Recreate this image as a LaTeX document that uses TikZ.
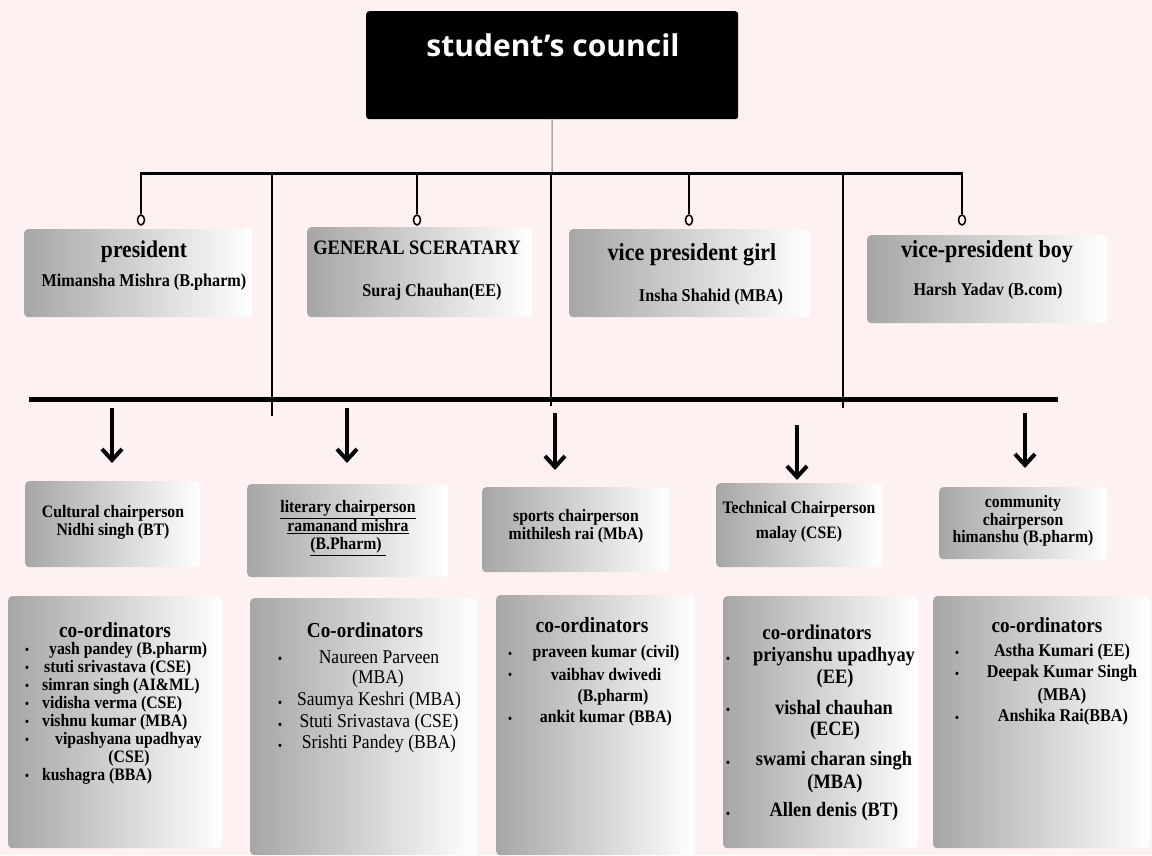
\documentclass[tikz,border=0pt]{standalone}
\usepackage{fontspec}
\setmainfont{Liberation Serif}[FakeStretch=0.9]
\newfontfamily\titlefont{Open Sans}
\usetikzlibrary{arrows.meta,shapes.geometric}
\definecolor{bgpink}{RGB}{254,241,241}
\definecolor{boxgray}{RGB}{166,166,166}
\newcommand{\fs}[2]{\fontsize{#1}{#2}\selectfont}
\tikzset{
  grad/.style={rounded corners=4pt, left color=boxgray, right color=white, draw=none, inner sep=0pt, anchor=north west},
  txt/.style={inner sep=0pt, align=center},
  bul/.style={inner sep=0pt, font=\fs{14}{14}},
  ring/.style={draw, ellipse, line width=1.5pt, minimum width=7pt, minimum height=10pt, inner sep=0pt, fill=bgpink},
  drop/.style={line width=2pt},
  arr/.style={line width=4pt, -{Straight Barb[length=11pt,width=20pt,line width=4pt]}},
}
\begin{document}
\begin{tikzpicture}[x=1pt,y=-1pt]
\useasboundingbox[fill=bgpink] (0,0) rectangle (1152,855);

% council
\node[fill=black, rounded corners=3pt, minimum width=372, minimum height=108, inner sep=0pt, anchor=north west] (council) at (366,11) {};
\node[txt, text=white, font=\titlefont\bfseries\fs{30}{32}] (councilT) at (553,45) {student’s council};

% upper bar
\coordinate (b1l) at (141,173);
\coordinate (b1r) at (962,173);
\coordinate (b1m) at (552,173);
\draw[gray, line width=1pt] (council.south) -- (b1m);
\draw[line width=3pt] (b1l) -- (b1r);

% drops with rings
\node[ring] (r1) at (141,220) {};
\node[ring] (r2) at (417,220) {};
\node[ring] (r3) at (689,220) {};
\node[ring] (r4) at (962,220) {};
\coordinate (t1) at (141,172);
\coordinate (t2) at (417,173);
\coordinate (t3) at (689,173);
\coordinate (t4) at (962,172);
\draw[drop] (t1) -- (r1.north);
\draw[drop] (t2) -- (r2.north);
\draw[drop] (t3) -- (r3.north);
\draw[drop] (t4) -- (r4.north);

% long verticals
\coordinate (v1a) at (272,173); \coordinate (v1b) at (272,416);
\coordinate (v2a) at (551,173); \coordinate (v2b) at (551,406);
\coordinate (v3a) at (843,173); \coordinate (v3b) at (843,408);
\draw[drop] (v1a) -- (v1b);
\draw[drop] (v2a) -- (v2b);
\draw[drop] (v3a) -- (v3b);

% lower bar
\coordinate (b2l) at (29,399);
\coordinate (b2r) at (1058,399);
\draw[line width=5pt] (b2l) -- (b2r);

% officer boxes
\node[grad, minimum width=228, minimum height=88] (pres) at (24,229) {};
\node[txt, font=\bfseries\fs{24}{28}] (presT) at (144,252) {president};
\node[txt, font=\bfseries\fs{18}{21}] (presN) at (144,282) {Mimansha Mishra (B.pharm)};

\node[grad, minimum width=225, minimum height=90] (gs) at (307,227) {};
\node[txt, font=\bfseries\fs{20.5}{24}] (gsT) at (417,248) {GENERAL SCERATARY};
\node[txt, font=\bfseries\fs{18}{21}] (gsN) at (432,292) {Suraj Chauhan(EE)};

\node[grad, minimum width=241, minimum height=88] (vpg) at (569,229) {};
\node[txt, font=\bfseries\fs{24.5}{28}] (vpgT) at (692,255) {vice president girl};
\node[txt, font=\bfseries\fs{18}{21}] (vpgN) at (711,297) {Insha Shahid (MBA)};

\node[grad, minimum width=240, minimum height=88] (vpb) at (867,235) {};
\node[txt, font=\bfseries\fs{24.5}{28}] (vpbT) at (987,252) {vice-president boy};
\node[txt, font=\bfseries\fs{18}{21}] (vpbN) at (988,291) {Harsh Yadav (B.com)};

% chair boxes
\node[grad, minimum width=175, minimum height=86] (cult) at (25,481) {};
\node[txt, font=\bfseries\fs{17.5}{18}] (cultT) at (113,522) {Cultural chairperson\\Nidhi singh (BT)};

\node[grad, minimum width=201, minimum height=93] (lit) at (247,484) {};
\node[txt, font=\bfseries\fs{17.5}{18.5}] (litT) at (348,528) {\underline{literary chairperson}\\\underline{ramanand mishra}\\\underline{(B.Pharm)\ }};

\node[grad, minimum width=187, minimum height=85] (spo) at (482,487) {};
\node[txt, font=\bfseries\fs{17.5}{18}] (spoT) at (576,526) {sports chairperson\\mithilesh rai (MbA)};

\node[grad, minimum width=166, minimum height=84] (tech) at (716,483) {};
\node[txt, font=\bfseries\fs{17.5}{25}] (techT) at (799,522) {Technical Chairperson\\malay (CSE)};

\node[grad, minimum width=168, minimum height=72] (comm) at (939,487) {};
\node[txt, font=\bfseries\fs{17.5}{17.5}] (commT) at (1023,521) {community\\chairperson\\himanshu (B.pharm)};

% arrows
\coordinate (a1) at (112,408);
\coordinate (a2) at (347,408);
\coordinate (a3) at (555,413);
\coordinate (a4) at (797,425);
\coordinate (a5) at (1025,413);
\draw[arr, shorten >=18pt] (a1) -- (a1 |- cult.north);
\draw[arr, shorten >=21pt] (a2) -- (a2 |- lit.north);
\draw[arr, shorten >=17pt] (a3) -- (a3 |- spo.north);
\draw[arr, shorten >=3pt] (a4) -- (a4 |- tech.north);
\draw[arr, shorten >=19pt] (a5) -- (a5 |- comm.north);

% coordinator box 1
\node[grad, minimum width=214, minimum height=252] (co1) at (8,596) {};
\node[txt, font=\bfseries\fs{21.5}{24}] (co1T) at (115,630) {co-ordinators};
\begin{scope}[every node/.style={inner sep=0pt, anchor=west, font=\bfseries\fs{17.5}{18}}]
\node (co1a) at (49,650) {yash pandey (B.pharm)};
\node (co1b) at (44,668) {stuti srivastava (CSE)};
\node (co1c) at (42,686) {simran singh (AI\&ML)};
\node (co1d) at (42,704) {vidisha verma (CSE)};
\node (co1e) at (42,722) {vishnu kumar (MBA)};
\node (co1f) at (55,740) {vipashyana upadhyay};
\node[anchor=center] (co1g) at (129,758) {(CSE)};
\node (co1h) at (42,776) {kushagra (BBA)};
\end{scope}
\foreach \yy [count=\i] in {651,669,687,705,723,741,777}
  \node[bul] (co1b\i) at (27,\yy) {\textbullet};

% coordinator box 2
\node[grad, minimum width=227, minimum height=257] (co2) at (250,598) {};
\node[txt, font=\bfseries\fs{21.3}{24}] (co2T) at (365,630) {Co-ordinators};
\begin{scope}[every node/.style={inner sep=0pt, font=\fs{19.5}{22}}]
\node (co2a) at (379,657) {Naureen Parveen};
\node (co2b) at (378,679) {(MBA)};
\node (co2c) at (379,701) {Saumya Keshri (MBA)};
\node (co2d) at (379,723) {Stuti Srivastava (CSE)};
\node (co2e) at (379,744) {Srishti Pandey (BBA)};
\end{scope}
\foreach \yy [count=\i] in {660,704,726,747}
  \node[bul] (co2b\i) at (280,\yy) {\textbullet};

% coordinator box 3
\node[grad, minimum width=199, minimum height=260] (co3) at (496,595) {};
\node[txt, font=\bfseries\fs{21.7}{24}] (co3T) at (592,625) {co-ordinators};
\begin{scope}[every node/.style={inner sep=0pt, font=\bfseries\fs{17.6}{20}}]
\node (co3a) at (606,653) {praveen kumar (civil)};
\node (co3b) at (606,674) {vaibhav dwivedi};
\node (co3c) at (613,697) {(B.pharm)};
\node (co3d) at (606,718) {ankit kumar (BBA)};
\end{scope}
\foreach \yy [count=\i] in {655,676,720}
  \node[bul] (co3b\i) at (510,\yy) {\textbullet};

% coordinator box 4
\node[grad, minimum width=195, minimum height=252] (co4) at (723,596) {};
\node[txt, font=\bfseries\fs{21}{24}] (co4T) at (817,632) {co-ordinators};
\begin{scope}[every node/.style={inner sep=0pt, font=\bfseries\fs{20.4}{22}}]
\node (co4a) at (834,657) {priyanshu upadhyay};
\node (co4b) at (835,679) {(EE)};
\node (co4c) at (834,708) {vishal chauhan};
\node (co4d) at (835,731) {(ECE)};
\node (co4e) at (834,761) {swami charan singh};
\node (co4f) at (835,784) {(MBA)};
\node (co4g) at (834,812) {Allen denis (BT)};
\end{scope}
\foreach \yy [count=\i] in {660,711,764,815}
  \node[bul] (co4b\i) at (728,\yy) {\textbullet};

% coordinator box 5
\node[grad, minimum width=217, minimum height=252] (co5) at (933,596) {};
\node[txt, font=\bfseries\fs{21.3}{24}] (co5T) at (1047,625) {co-ordinators};
\begin{scope}[every node/.style={inner sep=0pt, font=\bfseries\fs{18}{21}}]
\node (co5a) at (1062,652) {Astha Kumari (EE)};
\node (co5b) at (1062,673) {Deepak Kumar Singh};
\node (co5c) at (1062,696) {(MBA)};
\node (co5d) at (1063,717) {Anshika Rai(BBA)};
\end{scope}
\foreach \yy [count=\i] in {654,675,719}
  \node[bul] (co5b\i) at (957,\yy) {\textbullet};
\end{tikzpicture}
\end{document}
